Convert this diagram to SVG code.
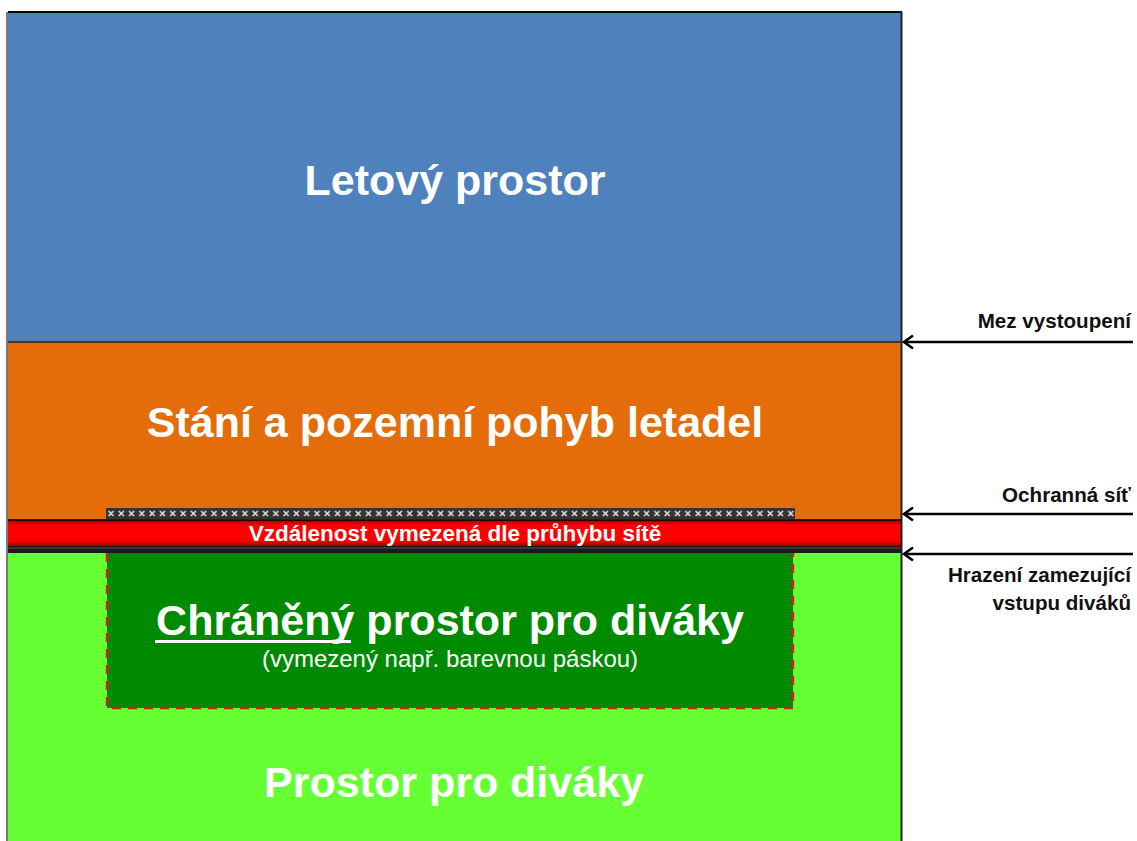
<svg xmlns="http://www.w3.org/2000/svg" width="1137" height="841" viewBox="0 0 1137 841">
<style>
.big{font-family:"Liberation Sans",Arial,sans-serif;font-weight:bold;fill:#fff;text-anchor:middle;font-size:43px}
.lbl{font-family:"Liberation Sans",Arial,sans-serif;font-weight:bold;font-size:20.6px;fill:#111;text-anchor:end}
.arr{stroke:#000;stroke-width:2.5;fill:none}
</style>
<defs>
<marker id="ah" markerWidth="14" markerHeight="16" refX="11" refY="8" orient="auto" markerUnits="userSpaceOnUse">
<path d="M2,1.5 L11,8 L2,14.5" fill="none" stroke="#000" stroke-width="2.6"/>
</marker>
<pattern id="net" x="106" y="508" width="10.3" height="11" patternUnits="userSpaceOnUse">
<rect width="10.3" height="11" fill="#333"/>
<path d="M2.5,3 L7.5,8 M7.5,3 L2.5,8" stroke="#ddd" stroke-width="1.6"/>
</pattern>
<linearGradient id="redg" x1="0" y1="0" x2="0" y2="1">
<stop offset="0" stop-color="#9a0000"/>
<stop offset="0.2" stop-color="#ff0000"/>
<stop offset="0.8" stop-color="#ff0000"/>
<stop offset="1" stop-color="#9a0000"/>
</linearGradient>
</defs>
<rect width="1137" height="841" fill="#fff"/>
<g id="letovy">
<rect x="8" y="12" width="893" height="330" fill="#4F81BD"/>
<text class="big" x="455" y="195">Letový prostor</text>
</g>
<g id="stani">
<rect x="8" y="342" width="893" height="178" fill="#E46C0A"/>
<text class="big" x="455" y="437">Stání a pozemní pohyb letadel</text>
</g>
<g id="divaci">
<rect x="8" y="553" width="893" height="288" fill="#66FF33"/>
<text class="big" x="454" y="797">Prostor pro diváky</text>
</g>
<g id="chraneny">
<rect x="107" y="553" width="686" height="155" fill="#008A00"/>
<path d="M107,553 V708 H793 V553" fill="none" stroke="#E8141C" stroke-width="2.5" stroke-dasharray="9,7"/>
<text class="big" x="450" y="635">Chráněný prostor pro diváky</text>
<rect x="155" y="640" width="196" height="3" fill="#fff"/>
<text x="450" y="667" font-family="'Liberation Sans',Arial,sans-serif" font-size="24" fill="#fff" text-anchor="middle">(vymezený např. barevnou páskou)</text>
</g>
<g id="sit">
<rect x="106" y="508" width="689" height="11" fill="url(#net)"/>
</g>
<g id="vzdalenost">
<rect x="8" y="520" width="893" height="26" fill="url(#redg)"/>
<line x1="8" y1="520" x2="901" y2="520" stroke="#000" stroke-width="1.5"/>
<text x="455" y="541" font-family="'Liberation Sans',Arial,sans-serif" font-weight="bold" font-size="22.5" fill="#fff" text-anchor="middle">Vzdálenost vymezená dle průhybu sítě</text>
</g>
<g id="hrazeni">
<rect x="8" y="546" width="893" height="7" fill="#1a1a1a"/>
<line x1="8" y1="548" x2="901" y2="548" stroke="#555" stroke-width="1"/>
</g>
<g id="borders">
<line x1="8" y1="12" x2="902" y2="12" stroke="#000" stroke-width="2"/>
<line x1="8" y1="342" x2="902" y2="342" stroke="#222" stroke-width="1.5"/>
<line x1="7" y1="12" x2="7" y2="841" stroke="#777" stroke-width="2"/>
<line x1="901.5" y1="12" x2="901.5" y2="841" stroke="#222" stroke-width="2"/>
</g>
<g id="connectors">
<line class="arr" x1="1133" y1="342" x2="904" y2="342" marker-end="url(#ah)"/>
<line class="arr" x1="1133" y1="514" x2="904" y2="514" marker-end="url(#ah)"/>
<line class="arr" x1="1133" y1="554" x2="904" y2="554" marker-end="url(#ah)"/>
</g>
<g id="labels">
<text class="lbl" x="1131" y="328">Mez vystoupení</text>
<text class="lbl" x="1131" y="502">Ochranná síť</text>
<text class="lbl" x="1131" y="582">Hrazení zamezující</text>
<text class="lbl" x="1131" y="610">vstupu diváků</text>
</g>
</svg>
